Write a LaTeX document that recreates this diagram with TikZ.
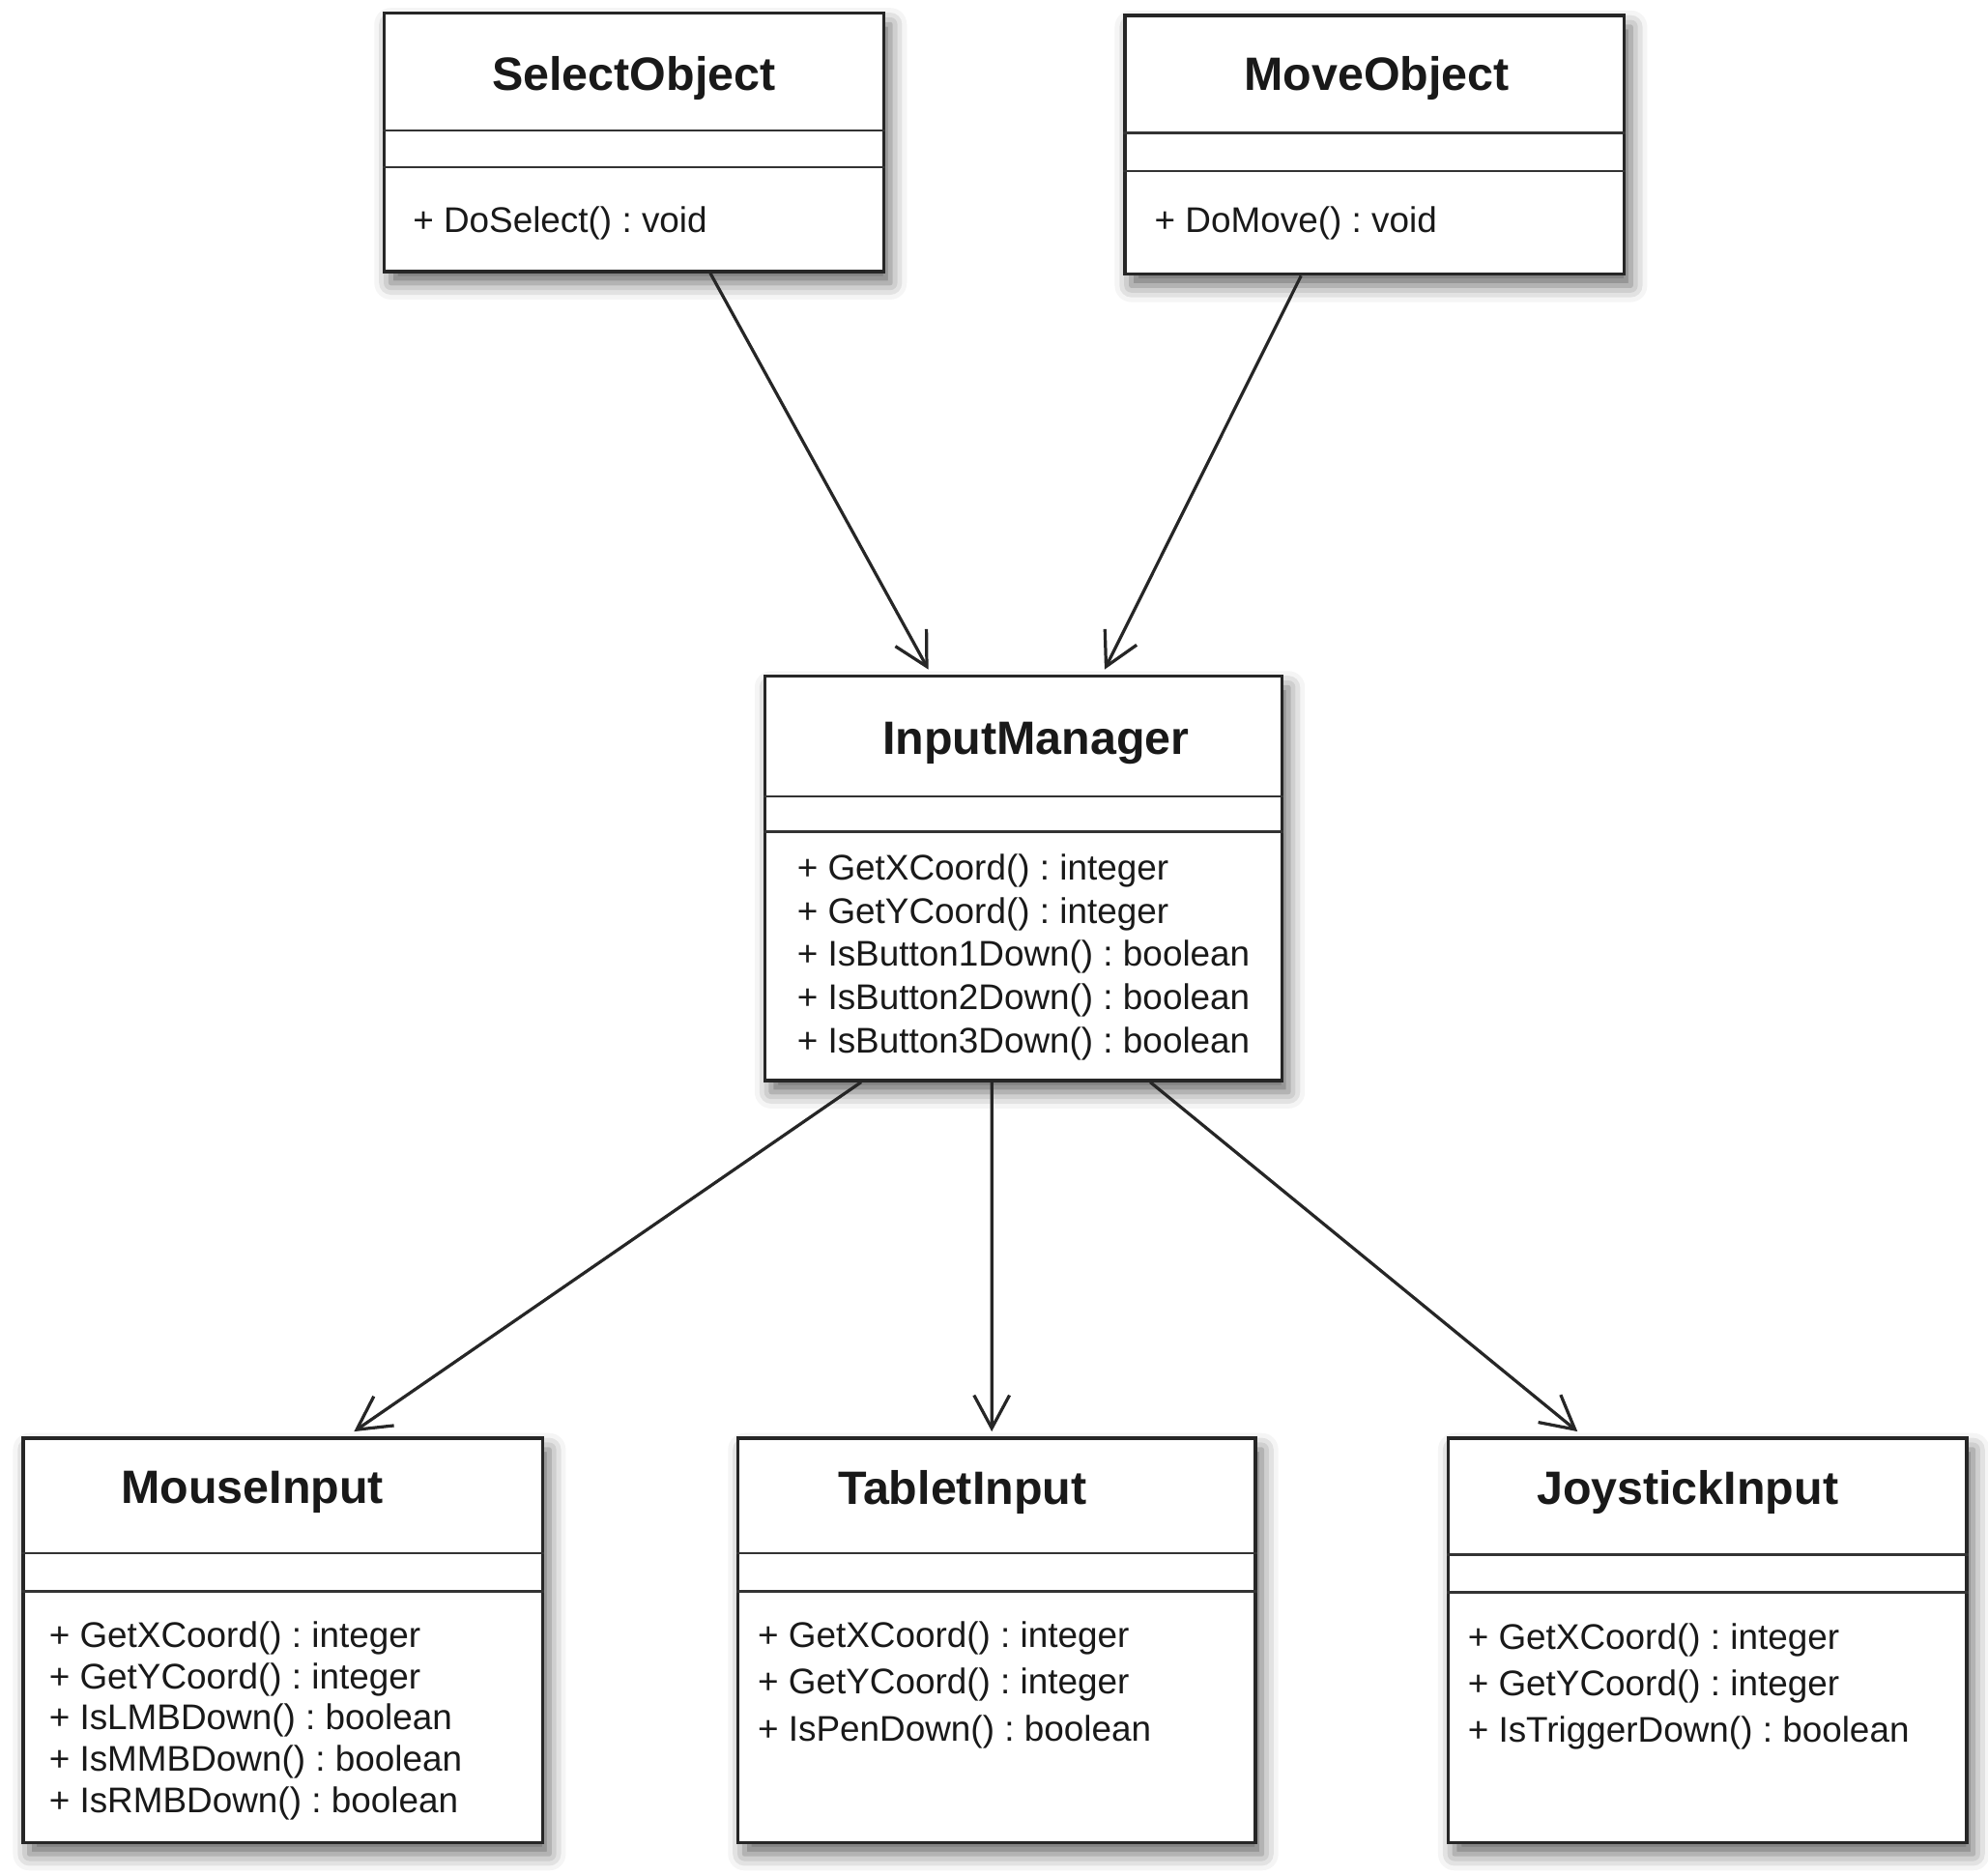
\documentclass[tikz,border=0pt]{standalone}
\usepackage{fontspec}
\setmainfont{Liberation Sans}
\usetikzlibrary{arrows.meta,shadows.blur}
\frenchspacing

\begin{document}
\begin{tikzpicture}[x=1mm, y=1mm,
    classbox/.style = {draw=black!85, line width=0.7pt, fill=white, anchor=north west,
        blur shadow={shadow xshift=0.5mm, shadow yshift=-0.9mm,
            shadow blur radius=1.3mm, shadow opacity=60}},
    classname/.style = {font=\fontsize{10.5}{12}\selectfont\bfseries, text=black!90},
    methods/.style = {font=\fontsize{8}{9.7}\selectfont, text=black!90,
        align=left, anchor=north west, inner sep=0pt},
    divider/.style = {draw=black!80, line width=0.55pt},
    assoc/.style = {draw=black!85, line width=0.7pt,
        -{Straight Barb[length=2.6mm, width=2.8mm, line width=0.7pt]}}]
\useasboundingbox (0,0) rectangle (156.8,-147.9);

\node[classbox, minimum width=39.4mm, minimum height=20.4mm] (select) at (30.2,-0.9) {};
\node[classbox, minimum width=39.4mm, minimum height=20.4mm] (move) at (88.6,-1.1) {};
\node[classbox, minimum width=40.8mm, minimum height=31.9mm] (im) at (60.2,-53.2) {};
\node[classbox, minimum width=41.0mm, minimum height=31.9mm] (mouse) at (1.7,-113.3) {};
\node[classbox, minimum width=40.8mm, minimum height=31.9mm] (tablet) at (58.1,-113.3) {};
\node[classbox, minimum width=40.9mm, minimum height=31.9mm] (joy) at (114.1,-113.3) {};

\draw[divider] ([yshift=-9.4mm]select.north west) -- ([yshift=-9.4mm]select.north east);
\draw[divider] ([yshift=-12.3mm]select.north west) -- ([yshift=-12.3mm]select.north east);
\draw[divider] ([yshift=-9.4mm]move.north west) -- ([yshift=-9.4mm]move.north east);
\draw[divider] ([yshift=-12.4mm]move.north west) -- ([yshift=-12.4mm]move.north east);
\draw[divider] ([yshift=-9.6mm]im.north west) -- ([yshift=-9.6mm]im.north east);
\draw[divider] ([yshift=-12.4mm]im.north west) -- ([yshift=-12.4mm]im.north east);
\draw[divider] ([yshift=-9.2mm]mouse.north west) -- ([yshift=-9.2mm]mouse.north east);
\draw[divider] ([yshift=-12.2mm]mouse.north west) -- ([yshift=-12.2mm]mouse.north east);
\draw[divider] ([yshift=-9.2mm]tablet.north west) -- ([yshift=-9.2mm]tablet.north east);
\draw[divider] ([yshift=-12.2mm]tablet.north west) -- ([yshift=-12.2mm]tablet.north east);
\draw[divider] ([yshift=-9.3mm]joy.north west) -- ([yshift=-9.3mm]joy.north east);
\draw[divider] ([yshift=-12.3mm]joy.north west) -- ([yshift=-12.3mm]joy.north east);

\node[classname] (select-name) at (50.0,-6.2) {SelectObject};
\node[classname] (move-name) at (108.6,-6.2) {MoveObject};
\node[classname] (im-name) at (81.7,-58.6) {InputManager};
\node[classname] (mouse-name) at (19.9,-117.7) {MouseInput};
\node[classname] (tablet-name) at (75.9,-117.7) {TabletInput};
\node[classname] (joy-name) at (133.1,-117.7) {JoystickInput};

\node[methods] (select-ops) at (32.5,-16.2) {+ DoSelect() : void};
\node[methods] (move-ops) at (91.0,-16.2) {+ DoMove() : void};
\node[methods] (im-ops) at (62.8,-67.3) {+ GetXCoord() : integer\\
    + GetYCoord() : integer\\ + IsButton1Down() : boolean\\
    + IsButton2Down() : boolean\\ + IsButton3Down() : boolean};
\node[methods, font=\fontsize{8}{9.3}\selectfont] (mouse-ops) at (3.8,-127.8)
    {+ GetXCoord() : integer\\ + GetYCoord() : integer\\ + IsLMBDown() : boolean\\
    + IsMMBDown() : boolean\\ + IsRMBDown() : boolean};
\node[methods, font=\fontsize{8}{10.5}\selectfont] (tablet-ops) at (59.7,-127.8)
    {+ GetXCoord() : integer\\ + GetYCoord() : integer\\ + IsPenDown() : boolean};
\node[methods, font=\fontsize{8}{10.4}\selectfont] (joy-ops) at (115.7,-128.0)
    {+ GetXCoord() : integer\\ + GetYCoord() : integer\\ + IsTriggerDown() : boolean};

\draw[assoc] ([xshift=6mm]select.south) -- ([xshift=-7.5mm, yshift=0.4mm]im.north);
\draw[assoc] ([xshift=-5.8mm]move.south) -- ([xshift=6.4mm, yshift=0.4mm]im.north);
\draw[assoc] ([xshift=-12.8mm]im.south) -- ([xshift=5.6mm, yshift=0.4mm]mouse.north);
\draw[assoc] ([xshift=-2.5mm]im.south) -- ([xshift=-0.4mm, yshift=0.4mm]tablet.north);
\draw[assoc] ([xshift=10mm]im.south) -- ([xshift=-10.25mm, yshift=0.4mm]joy.north);
\end{tikzpicture}
\end{document}
